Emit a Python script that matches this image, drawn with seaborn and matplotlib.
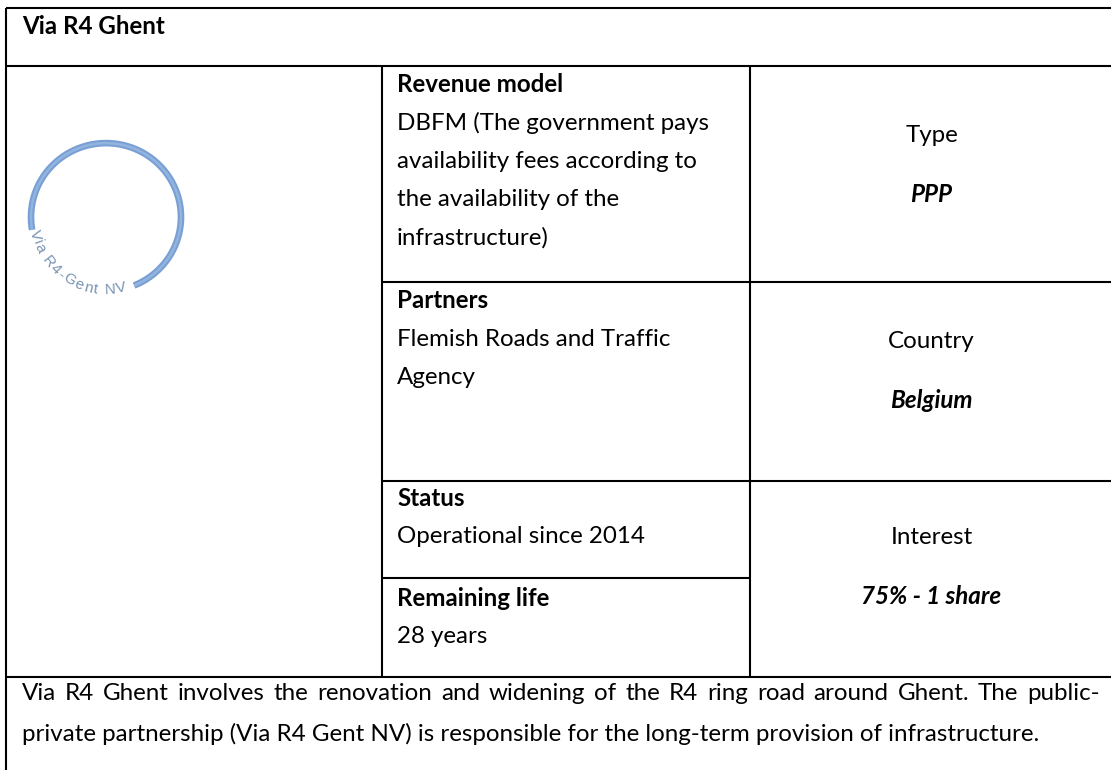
import numpy as np
import matplotlib
matplotlib.use("Agg")
import matplotlib.pyplot as plt
import seaborn as sns

# ---------------------------------- DATOS ----------------------------------

titulo = "Via R4 Ghent"

encabezados_medio = ["Revenue model", "Partners", "Status", "Remaining life"]
valores_medio = [
    ["DBFM (The government pays", "availability fees according to",
     "the availability of the", "infrastructure)"],
    ["Flemish Roads and Traffic", "Agency"],
    ["Operational since 2014"],
    ["28 years"],
]

etiquetas_derecha = ["Type", "Country", "Interest"]
valores_derecha = ["PPP", "Belgium", "75% - 1 share"]

descripcion = [
    "Via R4 Ghent involves the renovation and widening of the R4 ring road around Ghent. The public-",
    "private partnership (Via R4 Gent NV) is responsible for the long-term provision of infrastructure.",
]

texto_logo = "Via R4-Gent NV"

# ---------------------------------- ESTILO ----------------------------------

sns.set_style("white")
plt.rcParams['font.family'] = ['Lato', 'DejaVu Sans']
plt.rcParams['text.color'] = 'black'

ANCHO, ALTO = 1111, 770
TAM = 17.4          # tamaño de letra del cuerpo
LW = 1.5            # grosor de bordes

fig = plt.figure(figsize=(ANCHO / 100, ALTO / 100), dpi=100)
ax = fig.add_axes([0, 0, 1, 1])
ax.set_xlim(0, ANCHO)
ax.set_ylim(ALTO, 0)
ax.axis("off")

# Bordes de la tabla (x izq, col1, col2; filas)
x0, c1, c2, x1 = 6, 382, 750, ANCHO
ax.hlines([7.5, 66, 677], x0, x1, color="black", lw=LW)
ax.hlines([282, 481], c1, x1, color="black", lw=LW)
ax.hlines([578], c1, c2, color="black", lw=LW)
ax.vlines([x0], 7.5, ALTO, color="black", lw=LW)
ax.vlines([c1, c2], 66, 677, color="black", lw=LW)

# Titulo
ax.text(22, 26, titulo, fontsize=TAM, fontweight="bold", va="center", ha="left")

# Columna del medio
y_enc = [85, 301, 498, 598]
paso = 38.3
for y, enc, vals in zip(y_enc, encabezados_medio, valores_medio):
    ax.text(397, y, enc, fontsize=TAM, fontweight="bold", va="center", ha="left")
    for j, v in enumerate(vals):
        ax.text(397, y + paso * (j + 1), v, fontsize=TAM, va="center", ha="left")

# Columna derecha
xc = (c2 + x1) / 2 + 1
y_etq = [136, 342, 538]
for y, etq, val in zip(y_etq, etiquetas_derecha, valores_derecha):
    ax.text(xc, y, etq, fontsize=TAM, va="center", ha="center")
    ax.text(xc, y + 58, val, fontsize=TAM, fontweight="bold", fontstyle="italic",
            va="center", ha="center")

# Descripcion: primera linea justificada, segunda alineada a la izquierda
renderer = fig.canvas.get_renderer()
palabras = descripcion[0].split(" ")
objs = [ax.text(0, 694, p, fontsize=TAM, va="center", ha="left") for p in palabras]
anchos = [o.get_window_extent(renderer).width for o in objs]
hueco = (1100 - 22 - sum(anchos)) / (len(palabras) - 1)
x = 22
for o, w in zip(objs, anchos):
    o.set_x(x)
    x += w + hueco
ax.text(22, 734, descripcion[1], fontsize=TAM, va="center", ha="left")

# Logo: anillo azul abierto con texto curvo
cx, cy, r = 106, 217, 75
th = np.radians(np.linspace(-68, 190, 300))
arco_x = cx + r * np.cos(th)
arco_y = cy - r * 0.985 * np.sin(th)
sns.lineplot(x=arco_x, y=arco_y, sort=False, color="#78a0d4", lw=4.8, ax=ax,
             solid_capstyle="butt")
sns.lineplot(x=arco_x, y=arco_y, sort=False, color="#93b4df", lw=1.8, ax=ax,
             solid_capstyle="butt")

anch_car = {"V": .62, "i": .24, "a": .54, " ": .3, "R": .68, "4": .56, "-": .34,
            "G": .76, "e": .56, "n": .56, "t": .32, "N": .7}
pesos = np.array([anch_car.get(c, .5) for c in texto_logo])
acum = np.cumsum(pesos) - pesos / 2
ang = 190 + (286 - 190) * acum / pesos.sum()
rt = 73
for c, a in zip(texto_logo, ang):
    t = np.radians(a)
    ax.text(cx + rt * np.cos(t), cy - rt * np.sin(t), c, fontsize=11,
            family="Liberation Sans", color="#7a93b4", rotation=a + 90,
            rotation_mode="anchor", ha="center", va="center")

fig.savefig("out.png", dpi=100)
